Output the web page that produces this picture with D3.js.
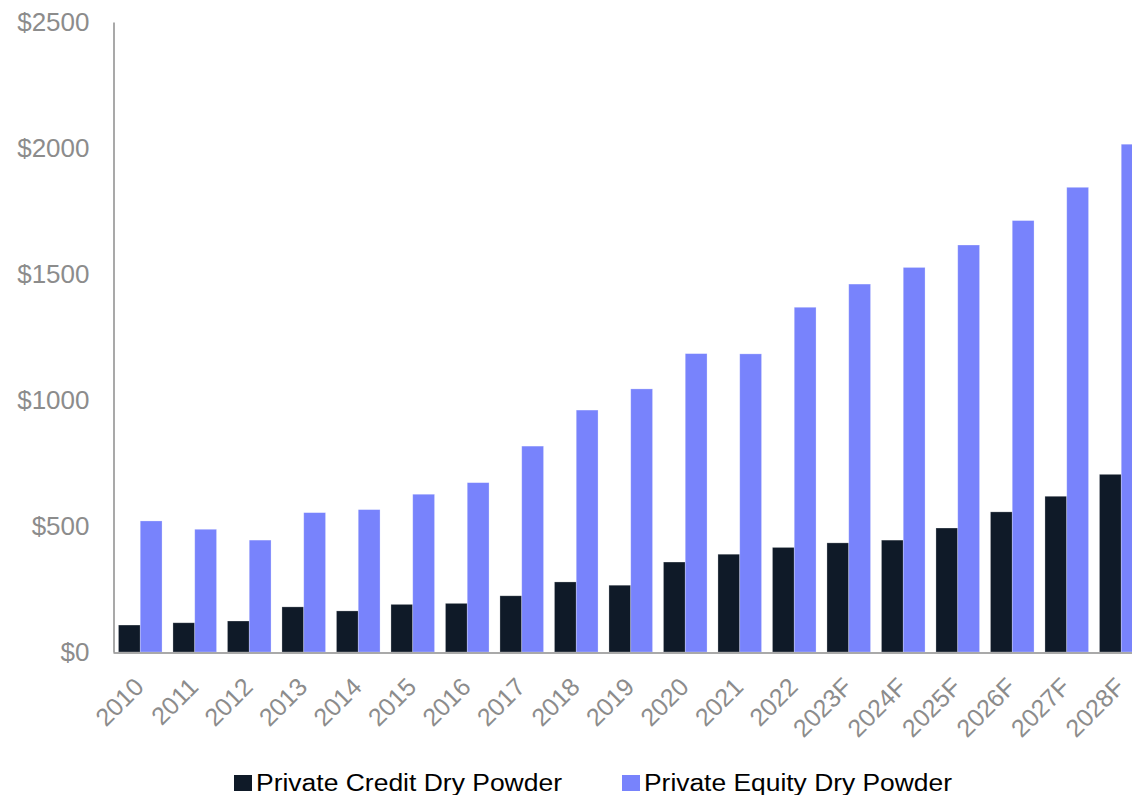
<!DOCTYPE html>
<html>
<head>
<meta charset="utf-8">
<script src="https://cdn.jsdelivr.net/npm/d3@7"></script>
<style>
  body { margin: 0; background: #fff; }
  svg { display: block; font-family: "Liberation Sans", Arial, sans-serif; }
</style>
</head>
<body>
<div id="chart"></div>
<script>
// Dry powder by year ($bn)
var years = ["2010", "2011", "2012", "2013", "2014", "2015", "2016", "2017", "2018", "2019",
             "2020", "2021", "2022", "2023F", "2024F", "2025F", "2026F", "2027F", "2028F"];
var creditValues = [107, 116, 123, 179, 163, 189, 193, 223, 278, 265,
                    357, 388, 415, 433, 444, 492, 556, 618, 705];
var equityValues = [520, 487, 444, 553, 565, 626, 672, 817, 960, 1044,
                    1184, 1183, 1368, 1460, 1526, 1615, 1712, 1844, 2015];
var yTicks = [0, 500, 1000, 1500, 2000, 2500];
var seriesNames = ["Private Credit Dry Powder", "Private Equity Dry Powder"];

var width = 1132,
    height = 795;

var colors = { credit: "#0f1a28", equity: "#7883fc" };

var svg = d3.select("#chart").append("svg")
    .attr("width", width)
    .attr("height", height);

// set the ranges (plot runs past the right edge, like the original)
var x = d3.scaleBand()
    .domain(years)
    .range([113, 113 + 54.5 * years.length])
    .paddingInner(0.2)
    .paddingOuter(0.1);

var x1 = d3.scaleBand()
    .domain(["credit", "equity"])
    .range([0, x.bandwidth()]);

var y = d3.scaleLinear()
    .domain([0, 2500])
    .range([652, 22]);

var rows = years.map(function (d, i) {
    return { year: d, credit: creditValues[i], equity: equityValues[i] };
});

var g = svg.selectAll(".grp")
    .data(rows)
    .enter().append("g")
    .attr("transform", function (d) { return "translate(" + x(d.year) + ",0)"; });

g.selectAll("rect")
    .data(function (d) {
        return ["credit", "equity"].map(function (k) { return { key: k, value: d[k] }; });
    })
    .enter().append("rect")
    .attr("x", function (d) { return x1(d.key); })
    .attr("y", function (d) { return y(d.value); })
    .attr("width", x1.bandwidth())
    .attr("height", function (d) { return y(0) - y(d.value); })
    .style("fill", function (d) { return colors[d.key]; })
    .style("stroke", "rgba(255,255,255,0.35)")
    .style("stroke-width", 0.75);

// Y axis
var yAxis = d3.axisLeft(y)
    .tickValues(yTicks)
    .tickSize(0)
    .tickPadding(24)
    .tickFormat(function (d) { return "$" + d; });

var yg = svg.append("g")
    .attr("transform", "translate(113.5,0)")
    .call(yAxis);
yg.select(".domain").attr("stroke", "#8c8c8c").attr("stroke-width", 1.5);
yg.selectAll("text")
    .attr("fill", "#8c8c8c")
    .style("font-size", "26px");

// X axis
var xAxis = d3.axisBottom(x).tickSize(0).tickPadding(0);

var xg = svg.append("g")
    .attr("transform", "translate(0,652.5)")
    .call(xAxis);
xg.select(".domain").attr("stroke", "#8c8c8c").attr("stroke-width", 1.5);
xg.selectAll("text")
    .attr("fill", "#8c8c8c")
    .style("font-size", "25px")
    .style("text-anchor", "end")
    .attr("y", 0)
    .attr("dy", 0)
    .attr("transform", "translate(5,36) rotate(-45)");

// Legend
var legendX = [234, 622];
var legendW = [306, 308];
var legend = svg.selectAll(".legend")
    .data(seriesNames)
    .enter().append("g")
    .attr("transform", function (d, i) { return "translate(" + legendX[i] + ",775)"; });

legend.append("rect")
    .attr("width", 18)
    .attr("height", 16)
    .style("fill", function (d, i) { return i === 0 ? colors.credit : colors.equity; });

legend.append("text")
    .attr("x", 22)
    .attr("y", 16)
    .style("font-size", "23px")
    .attr("fill", "#000")
    .attr("textLength", function (d, i) { return legendW[i]; })
    .attr("lengthAdjust", "spacingAndGlyphs")
    .text(function (d) { return d; });
</script>
</body>
</html>
